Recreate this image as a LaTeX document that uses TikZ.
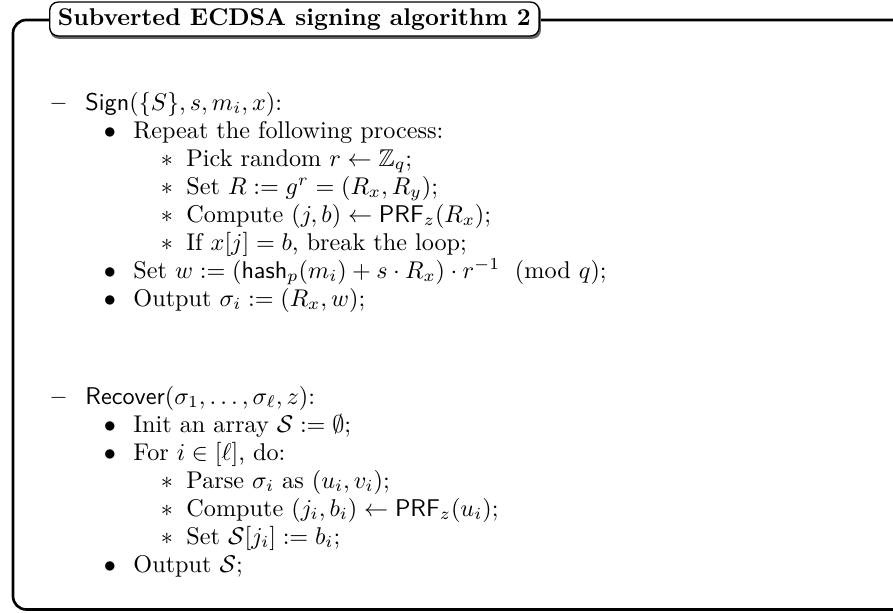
\documentclass[tikz,border=0pt]{standalone}
\usepackage{amssymb}
\begin{document}
\begin{tikzpicture}[x=0.4132pt,y=-0.4132pt,
  txt/.style={anchor=base west, inner sep=0pt},
  lbl/.style={anchor=base, inner sep=0pt},
  outerframe/.style={line width=1.1pt, draw=black, rounded corners=5.5pt},
  titlebox/.style={draw=black, line width=0.55pt, fill=white, rounded corners=3.5pt,
    anchor=west, minimum height=14pt, inner xsep=3.4pt, inner ysep=0pt, font=\bfseries},
  titleshadow/.style={fill=black!60, rounded corners=3.5pt}]
\useasboundingbox (0,0) rectangle (893,612);

% outer frame of the box (its right side runs past the page edge)
\draw[outerframe] (13,20) rectangle (1100,609.5);

% boxed title sitting on the top rule, with a small shadow
\path (49,19) node[titlebox, draw=none, fill=none, text opacity=0] (tshape) {Subverted ECDSA signing algorithm 2};
\fill[titleshadow] ([shift={(0.5pt,-0.9pt)}]tshape.south west) rectangle ([shift={(0.5pt,-0.9pt)}]tshape.north east);
\node[titlebox] (title) at (49,19) {Subverted ECDSA signing algorithm 2};

% list columns: text starts and label centres
\def\xa{85}  \def\xb{133} \def\xc{186}
\def\la{58.5} \def\lb{110} \def\lc{167}

% Sign
\node[txt] (s0) at (\xa,110) {\textsf{Sign}$(\{S\}, s, m_i, x)$:};
\node[lbl] (d0) at (\la,110) {\bfseries\textendash};
\node[txt] (s1) at (\xb,138) {Repeat the following process:};
\node[lbl] (b1) at (\lb,138) {$\bullet$};
\node[txt] (s2) at (\xc,166) {Pick random $r \leftarrow \mathbb{Z}_q$;};
\node[lbl] (a2) at (\lc,166) {$\ast$};
\node[txt] (s3) at (\xc,194) {Set $R := g^r = (R_x, R_y)$;};
\node[lbl] (a3) at (\lc,194) {$\ast$};
\node[txt] (s4) at (\xc,222) {Compute $(j,b) \leftarrow \mathsf{PRF}_z(R_x)$;};
\node[lbl] (a4) at (\lc,222) {$\ast$};
\node[txt] (s5) at (\xc,250) {If $x[j] = b$, break the loop;};
\node[lbl] (a5) at (\lc,250) {$\ast$};
\node[txt] (s6) at (\xb,278) {Set $w := (\mathsf{hash}_p(m_i) + s \cdot R_x) \cdot r^{-1}\mkern11mu(\mathrm{mod}\,\,q)$;};
\node[lbl] (b6) at (\lb,278) {$\bullet$};
\node[txt] (s7) at (\xb,306) {Output $\sigma_i := (R_x, w)$;};
\node[lbl] (b7) at (\lb,306) {$\bullet$};

% Recover
\node[txt] (r0) at (\xa,404) {\textsf{Recover}$(\sigma_1, \ldots, \sigma_\ell, z)$:};
\node[lbl] (d8) at (\la,404) {\bfseries\textendash};
\node[txt] (r1) at (\xb,432) {Init an array $\mathcal{S} := \emptyset$;};
\node[lbl] (b9) at (\lb,432) {$\bullet$};
\node[txt] (r2) at (\xb,460) {For $i \in [\ell]$, do:};
\node[lbl] (b10) at (\lb,460) {$\bullet$};
\node[txt] (r3) at (\xc,488) {Parse $\sigma_i$ as $(u_i, v_i)$;};
\node[lbl] (a11) at (\lc,488) {$\ast$};
\node[txt] (r4) at (\xc,516) {Compute $(j_i, b_i) \leftarrow \mathsf{PRF}_z(u_i)$;};
\node[lbl] (a12) at (\lc,516) {$\ast$};
\node[txt] (r5) at (\xc,544) {Set $\mathcal{S}[j_i] := b_i$;};
\node[lbl] (a13) at (\lc,544) {$\ast$};
\node[txt] (r6) at (\xb,572) {Output $\mathcal{S}$;};
\node[lbl] (b14) at (\lb,572) {$\bullet$};
\end{tikzpicture}
\end{document}
